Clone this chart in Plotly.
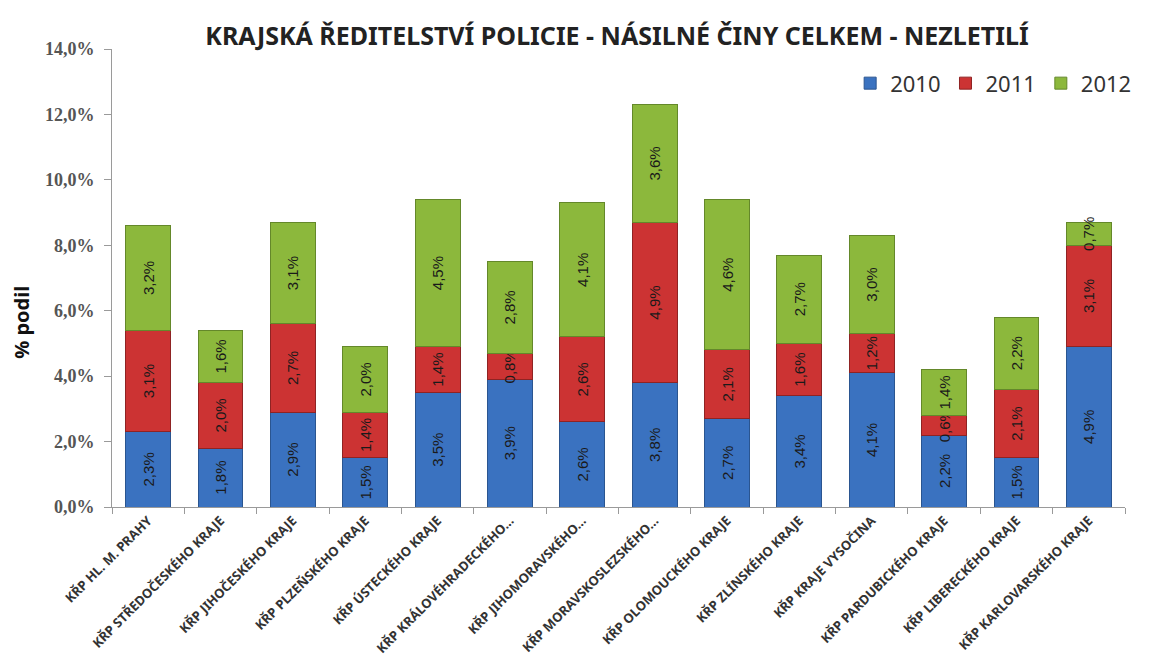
import plotly.graph_objects as go

categories = [
    "KŘP HL. M. PRAHY",
    "KŘP STŘEDOČESKÉHO KRAJE",
    "KŘP JIHOČESKÉHO KRAJE",
    "KŘP PLZEŇSKÉHO KRAJE",
    "KŘP ÚSTECKÉHO KRAJE",
    "KŘP KRÁLOVÉHRADECKÉHO…",
    "KŘP JIHOMORAVSKÉHO…",
    "KŘP MORAVSKOSLEZSKÉHO…",
    "KŘP OLOMOUCKÉHO KRAJE",
    "KŘP ZLÍNSKÉHO KRAJE",
    "KŘP KRAJE VYSOČINA",
    "KŘP PARDUBICKÉHO KRAJE",
    "KŘP LIBERECKÉHO KRAJE",
    "KŘP KARLOVARSKÉHO KRAJE",
]
v2010 = [2.3, 1.8, 2.9, 1.5, 3.5, 3.9, 2.6, 3.8, 2.7, 3.4, 4.1, 2.2, 1.5, 4.9]
v2011 = [3.1, 2.0, 2.7, 1.4, 1.4, 0.8, 2.6, 4.9, 2.1, 1.6, 1.2, 0.6, 2.1, 3.1]
v2012 = [3.2, 1.6, 3.1, 2.0, 4.5, 2.8, 4.1, 3.6, 4.6, 2.7, 3.0, 1.4, 2.2, 0.7]
years = ["2010", "2011", "2012"]
ytick_vals = [0, 2, 4, 6, 8, 10, 12, 14]

colors = ["#3a72c0", "#cc3333", "#8cb83c"]
line_colors = ["#2a5590", "#8f2323", "#64882a"]


def fmt(v):
    return f"{v:.1f}".replace(".", ",") + "%"


fig = go.Figure()
for name, vals, c, lc in zip(years, [v2010, v2011, v2012], colors, line_colors):
    fig.add_trace(go.Bar(
        name=name,
        x=categories,
        y=vals,
        marker=dict(color=c, line=dict(color=lc, width=1)),
        text=[fmt(v) for v in vals],
        textposition="inside",
        insidetextanchor="middle",
        textangle=-90,
        textfont=dict(family="Liberation Sans", size=15, color="#1a1a1a"),
        constraintext="none",
    ))

fig.update_layout(
    barmode="stack",
    bargap=0.38,
    width=1149,
    height=655,
    margin=dict(l=104, r=32, t=41, b=156, autoexpand=False),
    paper_bgcolor="white",
    plot_bgcolor="white",
    uniformtext=dict(minsize=15, mode="show"),
    title=dict(
        text="KRAJSKÁ ŘEDITELSTVÍ POLICIE - NÁSILNÉ ČINY CELKEM - NEZLETILÍ",
        x=0.53, xanchor="center", y=0.957, yanchor="middle",
        font=dict(family="Noto Sans", size=25, color="#222222", weight="bold"),
    ),
    legend=dict(
        orientation="h", x=1.012, xanchor="right", y=0.925, yanchor="middle",
        font=dict(family="Noto Sans", size=22, color="#333333"),
        traceorder="normal", bgcolor="rgba(0,0,0,0)",
    ),
    showlegend=True,
    annotations=[dict(
        text="% podil", xref="paper", yref="paper", x=-0.089, y=0.404,
        xanchor="center", yanchor="middle", textangle=-90, showarrow=False,
        font=dict(family="Noto Sans", size=20, color="#111111", weight="bold"),
    )],
)

fig.update_yaxes(
    range=[0, 14],
    tickvals=ytick_vals,
    ticktext=[fmt(v) for v in ytick_vals],
    showgrid=False,
    zeroline=False,
    showline=True,
    linecolor="#9a9a9a",
    linewidth=1,
    ticks="outside",
    ticklen=7,
    tickcolor="#9a9a9a",
    ticklabelstandoff=6,
    automargin=False,
    tickfont=dict(family="Liberation Serif", size=18, color="#555555", weight="bold"),
)
fig.update_xaxes(
    showgrid=False,
    showline=True,
    linecolor="#9a9a9a",
    linewidth=1,
    ticks="outside",
    ticklen=6,
    tickcolor="#9a9a9a",
    tickson="boundaries",
    tickangle=-45,
    automargin=False,
    tickfont=dict(family="Noto Sans", size=13, color="#333333", weight="bold"),
)

fig.write_html("out.html")
